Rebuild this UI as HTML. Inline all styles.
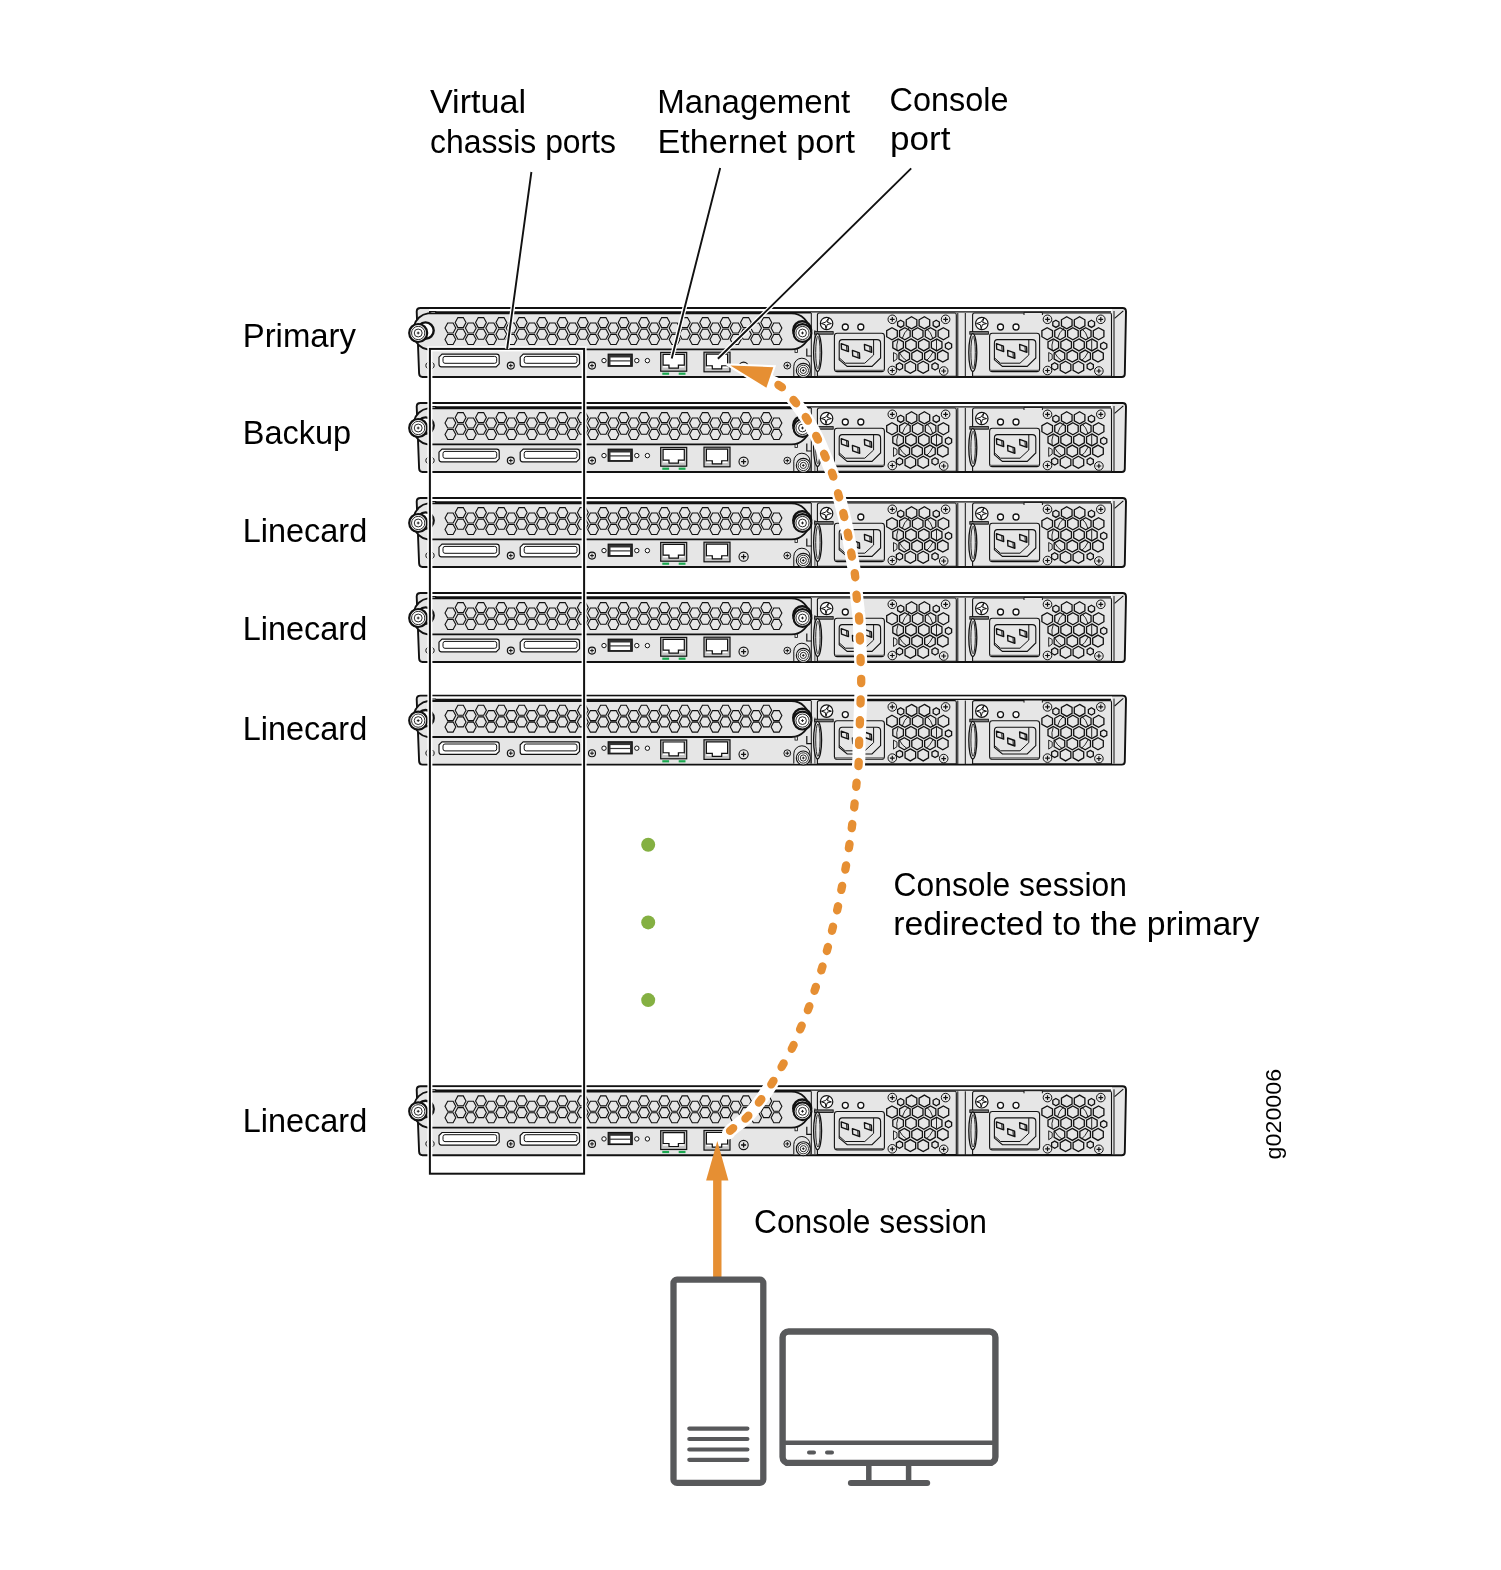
<!DOCTYPE html><html><head><meta charset="utf-8"><style>html,body{margin:0;padding:0;background:#fff;}svg{display:block;will-change:transform}</style></head><body>
<svg width="1501" height="1570" viewBox="0 0 1501 1570">
<rect width="1501" height="1570" fill="#fff"/>
<defs><g id="u"><path d="M420.5,308 H1122.5 Q1126,308 1126,311.5 L1124.8,374 Q1124.8,377 1121.8,377 H422.5 Q419.3,377 419.1,373.5 L416.7,311.5 Q416.7,308 420.5,308 Z" fill="#e6e6e6" stroke="#111" stroke-width="1.9"/><rect x="429" y="309" width="683" height="2.6" fill="#fff"/><path d="M429,312.3 H811" stroke="#111" stroke-width="2.2"/><path d="M811,311.8 H1111" stroke="#111" stroke-width="1.3"/><path d="M429,311.5 H436 L435,314.5" fill="#fff" stroke="#111" stroke-width="1"/><path d="M428,313.4 H791.5 A17.8,17.8 0 0 1 791.5,349.4 H427.5 A16.7,16.7 0 0 1 414,337 V326 A16.7,16.7 0 0 1 428,313.4 Z" fill="#e6e6e6" stroke="#111" stroke-width="1.8"/><circle cx="425.5" cy="330.6" r="8.2" fill="#fff" stroke="#111" stroke-width="2.4"/><circle cx="418.2" cy="333.0" r="9.0" fill="#fff" stroke="#111" stroke-width="2.2"/><circle cx="418.2" cy="333.0" r="6.66" fill="none" stroke="#111" stroke-width="0.9"/><circle cx="418.2" cy="333.0" r="3.96" fill="none" stroke="#111" stroke-width="0.9"/><path d="M416.8,333.0 H419.59999999999997 M418.2,331.6 V334.4" stroke="#111" stroke-width="0.9"/><path d="M445.00,328.00 L447.70,323.00 L453.10,323.00 L455.80,328.00 L453.10,333.00 L447.70,333.00ZM445.00,339.50 L447.70,334.50 L453.10,334.50 L455.80,339.50 L453.10,344.50 L447.70,344.50ZM455.19,322.60 L457.89,317.60 L463.29,317.60 L465.99,322.60 L463.29,327.60 L457.89,327.60ZM455.19,334.30 L457.89,329.30 L463.29,329.30 L465.99,334.30 L463.29,339.30 L457.89,339.30ZM465.38,328.00 L468.08,323.00 L473.48,323.00 L476.18,328.00 L473.48,333.00 L468.08,333.00ZM465.38,339.50 L468.08,334.50 L473.48,334.50 L476.18,339.50 L473.48,344.50 L468.08,344.50ZM475.57,322.60 L478.27,317.60 L483.67,317.60 L486.37,322.60 L483.67,327.60 L478.27,327.60ZM475.57,334.30 L478.27,329.30 L483.67,329.30 L486.37,334.30 L483.67,339.30 L478.27,339.30ZM485.76,328.00 L488.46,323.00 L493.86,323.00 L496.56,328.00 L493.86,333.00 L488.46,333.00ZM485.76,339.50 L488.46,334.50 L493.86,334.50 L496.56,339.50 L493.86,344.50 L488.46,344.50ZM495.95,322.60 L498.65,317.60 L504.05,317.60 L506.75,322.60 L504.05,327.60 L498.65,327.60ZM495.95,334.30 L498.65,329.30 L504.05,329.30 L506.75,334.30 L504.05,339.30 L498.65,339.30ZM506.14,328.00 L508.84,323.00 L514.24,323.00 L516.94,328.00 L514.24,333.00 L508.84,333.00ZM506.14,339.50 L508.84,334.50 L514.24,334.50 L516.94,339.50 L514.24,344.50 L508.84,344.50ZM516.33,322.60 L519.03,317.60 L524.43,317.60 L527.13,322.60 L524.43,327.60 L519.03,327.60ZM516.33,334.30 L519.03,329.30 L524.43,329.30 L527.13,334.30 L524.43,339.30 L519.03,339.30ZM526.52,328.00 L529.22,323.00 L534.62,323.00 L537.32,328.00 L534.62,333.00 L529.22,333.00ZM526.52,339.50 L529.22,334.50 L534.62,334.50 L537.32,339.50 L534.62,344.50 L529.22,344.50ZM536.71,322.60 L539.41,317.60 L544.81,317.60 L547.51,322.60 L544.81,327.60 L539.41,327.60ZM536.71,334.30 L539.41,329.30 L544.81,329.30 L547.51,334.30 L544.81,339.30 L539.41,339.30ZM546.90,328.00 L549.60,323.00 L555.00,323.00 L557.70,328.00 L555.00,333.00 L549.60,333.00ZM546.90,339.50 L549.60,334.50 L555.00,334.50 L557.70,339.50 L555.00,344.50 L549.60,344.50ZM557.09,322.60 L559.79,317.60 L565.19,317.60 L567.89,322.60 L565.19,327.60 L559.79,327.60ZM557.09,334.30 L559.79,329.30 L565.19,329.30 L567.89,334.30 L565.19,339.30 L559.79,339.30ZM567.28,328.00 L569.98,323.00 L575.38,323.00 L578.08,328.00 L575.38,333.00 L569.98,333.00ZM567.28,339.50 L569.98,334.50 L575.38,334.50 L578.08,339.50 L575.38,344.50 L569.98,344.50ZM577.47,322.60 L580.17,317.60 L585.57,317.60 L588.27,322.60 L585.57,327.60 L580.17,327.60ZM577.47,334.30 L580.17,329.30 L585.57,329.30 L588.27,334.30 L585.57,339.30 L580.17,339.30ZM587.66,328.00 L590.36,323.00 L595.76,323.00 L598.46,328.00 L595.76,333.00 L590.36,333.00ZM587.66,339.50 L590.36,334.50 L595.76,334.50 L598.46,339.50 L595.76,344.50 L590.36,344.50ZM597.85,322.60 L600.55,317.60 L605.95,317.60 L608.65,322.60 L605.95,327.60 L600.55,327.60ZM597.85,334.30 L600.55,329.30 L605.95,329.30 L608.65,334.30 L605.95,339.30 L600.55,339.30ZM608.04,328.00 L610.74,323.00 L616.14,323.00 L618.84,328.00 L616.14,333.00 L610.74,333.00ZM608.04,339.50 L610.74,334.50 L616.14,334.50 L618.84,339.50 L616.14,344.50 L610.74,344.50ZM618.23,322.60 L620.93,317.60 L626.33,317.60 L629.03,322.60 L626.33,327.60 L620.93,327.60ZM618.23,334.30 L620.93,329.30 L626.33,329.30 L629.03,334.30 L626.33,339.30 L620.93,339.30ZM628.42,328.00 L631.12,323.00 L636.52,323.00 L639.22,328.00 L636.52,333.00 L631.12,333.00ZM628.42,339.50 L631.12,334.50 L636.52,334.50 L639.22,339.50 L636.52,344.50 L631.12,344.50ZM638.61,322.60 L641.31,317.60 L646.71,317.60 L649.41,322.60 L646.71,327.60 L641.31,327.60ZM638.61,334.30 L641.31,329.30 L646.71,329.30 L649.41,334.30 L646.71,339.30 L641.31,339.30ZM648.80,328.00 L651.50,323.00 L656.90,323.00 L659.60,328.00 L656.90,333.00 L651.50,333.00ZM648.80,339.50 L651.50,334.50 L656.90,334.50 L659.60,339.50 L656.90,344.50 L651.50,344.50ZM658.99,322.60 L661.69,317.60 L667.09,317.60 L669.79,322.60 L667.09,327.60 L661.69,327.60ZM658.99,334.30 L661.69,329.30 L667.09,329.30 L669.79,334.30 L667.09,339.30 L661.69,339.30ZM669.18,328.00 L671.88,323.00 L677.28,323.00 L679.98,328.00 L677.28,333.00 L671.88,333.00ZM669.18,339.50 L671.88,334.50 L677.28,334.50 L679.98,339.50 L677.28,344.50 L671.88,344.50ZM679.37,322.60 L682.07,317.60 L687.47,317.60 L690.17,322.60 L687.47,327.60 L682.07,327.60ZM679.37,334.30 L682.07,329.30 L687.47,329.30 L690.17,334.30 L687.47,339.30 L682.07,339.30ZM689.56,328.00 L692.26,323.00 L697.66,323.00 L700.36,328.00 L697.66,333.00 L692.26,333.00ZM689.56,339.50 L692.26,334.50 L697.66,334.50 L700.36,339.50 L697.66,344.50 L692.26,344.50ZM699.75,322.60 L702.45,317.60 L707.85,317.60 L710.55,322.60 L707.85,327.60 L702.45,327.60ZM699.75,334.30 L702.45,329.30 L707.85,329.30 L710.55,334.30 L707.85,339.30 L702.45,339.30ZM709.94,328.00 L712.64,323.00 L718.04,323.00 L720.74,328.00 L718.04,333.00 L712.64,333.00ZM709.94,339.50 L712.64,334.50 L718.04,334.50 L720.74,339.50 L718.04,344.50 L712.64,344.50ZM720.13,322.60 L722.83,317.60 L728.23,317.60 L730.93,322.60 L728.23,327.60 L722.83,327.60ZM720.13,334.30 L722.83,329.30 L728.23,329.30 L730.93,334.30 L728.23,339.30 L722.83,339.30ZM730.32,328.00 L733.02,323.00 L738.42,323.00 L741.12,328.00 L738.42,333.00 L733.02,333.00ZM730.32,339.50 L733.02,334.50 L738.42,334.50 L741.12,339.50 L738.42,344.50 L733.02,344.50ZM740.51,322.60 L743.21,317.60 L748.61,317.60 L751.31,322.60 L748.61,327.60 L743.21,327.60ZM740.51,334.30 L743.21,329.30 L748.61,329.30 L751.31,334.30 L748.61,339.30 L743.21,339.30ZM750.70,328.00 L753.40,323.00 L758.80,323.00 L761.50,328.00 L758.80,333.00 L753.40,333.00ZM750.70,339.50 L753.40,334.50 L758.80,334.50 L761.50,339.50 L758.80,344.50 L753.40,344.50ZM760.89,322.60 L763.59,317.60 L768.99,317.60 L771.69,322.60 L768.99,327.60 L763.59,327.60ZM760.89,334.30 L763.59,329.30 L768.99,329.30 L771.69,334.30 L768.99,339.30 L763.59,339.30ZM771.08,328.00 L773.78,323.00 L779.18,323.00 L781.88,328.00 L779.18,333.00 L773.78,333.00ZM771.08,339.50 L773.78,334.50 L779.18,334.50 L781.88,339.50 L779.18,344.50 L773.78,344.50Z" fill="#e6e6e6" stroke="#111" stroke-width="1.12"/><circle cx="802.2" cy="330.2" r="9" fill="#fff" stroke="#111" stroke-width="2.4"/><circle cx="802.5" cy="333.0" r="8.9" fill="#fff" stroke="#111" stroke-width="2.2"/><circle cx="802.5" cy="333.0" r="6.59" fill="none" stroke="#111" stroke-width="0.9"/><circle cx="802.5" cy="333.0" r="3.92" fill="none" stroke="#111" stroke-width="0.9"/><path d="M801.1,333.0 H803.9 M802.5,331.6 V334.4" stroke="#111" stroke-width="0.9"/><path d="M427.5,362.5 A3.5,3.5 0 0 0 427.5,368.5 M432.5,362.5 A3.5,3.5 0 0 1 432.5,368.5" fill="none" stroke="#111" stroke-width="1"/><path d="M442,354.2 H496.7 Q499.2,354.2 499.2,356.7 V363.8 L496.2,366.8 H441.5 Q439,366.8 439,364.3 V357.2 L442,354.2 Z" fill="#fff" stroke="#111" stroke-width="1.2"/><path d="M445,356.4 H494.7 Q496.7,356.4 496.7,358.4 V361.3 Q496.7,363.3 494.7,363.3 H445 Q443,363.3 443,361.3 V358.4 Q443,356.4 445,356.4 Z" fill="#fff" stroke="#111" stroke-width="1.0"/><path d="M523.2,354.2 H577.0 Q579.5,354.2 579.5,356.7 V363.8 L576.5,366.8 H522.7 Q520.2,366.8 520.2,364.3 V357.2 L523.2,354.2 Z" fill="#fff" stroke="#111" stroke-width="1.2"/><path d="M526.2,356.4 H575.0 Q577.0,356.4 577.0,358.4 V361.3 Q577.0,363.3 575.0,363.3 H526.2 Q524.2,363.3 524.2,361.3 V358.4 Q524.2,356.4 526.2,356.4 Z" fill="#fff" stroke="#111" stroke-width="1.0"/><circle cx="510.8" cy="365.6" r="3.5" fill="#e6e6e6" stroke="#111" stroke-width="1.1"/><path d="M508.875,365.6 H512.725 M510.8,363.675 V367.52500000000003" stroke="#111" stroke-width="1.00"/><circle cx="592" cy="365.6" r="3.5" fill="#e6e6e6" stroke="#111" stroke-width="1.1"/><path d="M590.075,365.6 H593.925 M592,363.675 V367.52500000000003" stroke="#111" stroke-width="1.00"/><circle cx="604" cy="360.6" r="2.2" fill="#fff" stroke="#111" stroke-width="1"/><circle cx="636.8" cy="360.6" r="2.2" fill="#fff" stroke="#111" stroke-width="1"/><circle cx="647.4" cy="360.6" r="2.2" fill="#fff" stroke="#111" stroke-width="1"/><rect x="608.2" y="354.2" width="24" height="12" fill="#333" stroke="#111" stroke-width="1.2"/><rect x="610.5" y="357.5" width="19.5" height="2.8" fill="#fff"/><rect x="610.5" y="361.5" width="19.5" height="3.5" fill="#fff"/><rect x="660.7" y="352.4" width="26.0" height="18.80000000000001" fill="#c4c4c4" stroke="#111" stroke-width="1.2"/><path d="M663.1,354.4 H684.3000000000001 V365.2 H678.38 V368.2 H669.0200000000001 V365.2 H663.1 Z" fill="#fff" stroke="#111" stroke-width="1.2"/><path d="M663.1,366.7 H668.0200000000001 M679.38,366.7 H684.3000000000001" stroke="#fff" stroke-width="1.5"/><rect x="662.3" y="372.6" width="6.8" height="2.2" fill="#1aa84f"/><rect x="678.7" y="372.6" width="6.8" height="2.2" fill="#1aa84f"/><rect x="704" y="352.2" width="26" height="19.600000000000023" fill="#c4c4c4" stroke="#111" stroke-width="1.2"/><path d="M706.4,354.2 H727.6 V365.8 H721.68 V368.8 H712.32 V365.8 H706.4 Z" fill="#fff" stroke="#111" stroke-width="1.2"/><path d="M706.4,367.3 H711.32 M722.68,367.3 H727.6" stroke="#fff" stroke-width="1.5"/><circle cx="743.6" cy="366.7" r="4.6" fill="#e6e6e6" stroke="#111" stroke-width="1.1"/><path d="M741.07,366.7 H746.13 M743.6,364.17 V369.22999999999996" stroke="#111" stroke-width="1.29"/><circle cx="787.3" cy="365.6" r="3.4" fill="#e6e6e6" stroke="#111" stroke-width="1.0"/><path d="M785.43,365.6 H789.17 M787.3,363.73 V367.47" stroke="#111" stroke-width="1.00"/><rect x="795" y="349.3" width="2.6" height="3.2" fill="#e6e6e6" stroke="#111" stroke-width="0.8"/><path d="M793.8,376 V366.3 A8.1,8.1 0 0 1 810,366.3 V376" fill="#e6e6e6" stroke="#111" stroke-width="1"/><path d="M806.8,348.5 V356 H811.7" fill="none" stroke="#111" stroke-width="1.2"/><circle cx="803.3" cy="370.4" r="7.0" fill="#fff" stroke="#111" stroke-width="1.1"/><circle cx="803.3" cy="370.4" r="5.18" fill="none" stroke="#111" stroke-width="0.9"/><circle cx="803.3" cy="370.4" r="3.08" fill="none" stroke="#111" stroke-width="0.9"/><path d="M801.9,370.4 H804.6999999999999 M803.3,369.0 V371.79999999999995" stroke="#111" stroke-width="0.9"/><path d="M811.3,313 V376" stroke="#111" stroke-width="1.0"/><path d="M814.9,330 V376" stroke="#444" stroke-width="1"/><g transform="translate(0,0)"><path d="M817.4,315 Q817.4,313 819.5,313 H955 Q956.3,313 956.3,315 V376.3 H817.4 Z" fill="#e6e6e6" stroke="#111" stroke-width="1.1"/><circle cx="826.6" cy="323.5" r="6.2" fill="#fff" stroke="#111" stroke-width="1.2"/><path d="M828.6,318.2 L827.4,322.3 L831.4,323.6 L827.2,324.6 L826,328.8 L825.2,324.8 L821.4,323.5 L825.6,322.2 Z" fill="#fff" stroke="#111" stroke-width="1"/><rect x="814.6" y="331.6" width="18.6" height="2.6" fill="#777" stroke="#111" stroke-width="0.9"/><circle cx="845.3" cy="327" r="3" fill="#fff" stroke="#111" stroke-width="1.3"/><circle cx="860.8" cy="327" r="3" fill="#fff" stroke="#111" stroke-width="1.3"/><rect x="834.4" y="333.2" width="50" height="38.4" rx="2.8" fill="#e6e6e6" stroke="#111" stroke-width="1.1"/><path d="M834.6,370.3 H884" stroke="#666" stroke-width="1.2"/><path d="M842.2,339.6 H877 Q880.6,339.6 880.6,343.2 V358 L872,366.4 H847.2 L839.2,359.8 V343.2 Q839.2,339.6 842.2,339.6 Z" fill="#e6e6e6" stroke="#111" stroke-width="1.1"/><path d="M873.6,339.8 V355 L864.8,363.2 H845.2 L839.4,358" fill="none" stroke="#111" stroke-width="1"/><path d="M841.2,343.6 L848.2,346.1 L848.5,351.6 L841.5,349.1 Z" fill="#e6e6e6" stroke="#111" stroke-width="1.35" stroke-linejoin="round"/><path d="M846.6,345.8 L846.9000000000001,350.90000000000003" stroke="#111" stroke-width="1.0"/><path d="M852.4,350.4 L859.4,352.9 L859.6999999999999,358.4 L852.6999999999999,355.9 Z" fill="#e6e6e6" stroke="#111" stroke-width="1.35" stroke-linejoin="round"/><path d="M857.8,352.59999999999997 L858.1,357.7" stroke="#111" stroke-width="1.0"/><path d="M864.4,344.4 L871.4,346.9 L871.6999999999999,352.4 L864.6999999999999,349.9 Z" fill="#e6e6e6" stroke="#111" stroke-width="1.35" stroke-linejoin="round"/><path d="M869.8,346.59999999999997 L870.1,351.7" stroke="#111" stroke-width="1.0"/><circle cx="892.3" cy="319.3" r="4.3" fill="#e6e6e6" stroke="#111" stroke-width="1.0"/><path d="M889.935,319.3 H894.665 M892.3,316.935 V321.665" stroke="#111" stroke-width="1.20"/><circle cx="945.6" cy="319.3" r="4.3" fill="#e6e6e6" stroke="#111" stroke-width="1.0"/><path d="M943.235,319.3 H947.965 M945.6,316.935 V321.665" stroke="#111" stroke-width="1.20"/><circle cx="892.3" cy="370.5" r="4.3" fill="#e6e6e6" stroke="#111" stroke-width="1.0"/><path d="M889.935,370.5 H894.665 M892.3,368.135 V372.865" stroke="#111" stroke-width="1.20"/><circle cx="943.7" cy="371.0" r="4.3" fill="#e6e6e6" stroke="#111" stroke-width="1.0"/><path d="M941.335,371.0 H946.065 M943.7,368.635 V373.365" stroke="#111" stroke-width="1.20"/><path d="M911.55,316.80 L916.85,319.80 L916.85,325.80 L911.55,328.80 L906.25,325.80 L906.25,319.80ZM924.40,316.80 L929.70,319.80 L929.70,325.80 L924.40,328.80 L919.10,325.80 L919.10,319.80ZM900.70,320.20 L903.80,322.00 L903.80,325.60 L900.70,327.40 L897.60,325.60 L897.60,322.00ZM936.25,320.20 L939.35,322.00 L939.35,325.60 L936.25,327.40 L933.15,325.60 L933.15,322.00ZM892.00,327.70 L897.30,330.70 L897.30,336.70 L892.00,339.70 L886.70,336.70 L886.70,330.70ZM904.85,327.70 L910.15,330.70 L910.15,336.70 L904.85,339.70 L899.55,336.70 L899.55,330.70ZM917.70,327.70 L923.00,330.70 L923.00,336.70 L917.70,339.70 L912.40,336.70 L912.40,330.70ZM930.55,327.70 L935.85,330.70 L935.85,336.70 L930.55,339.70 L925.25,336.70 L925.25,330.70ZM943.40,327.70 L948.70,330.70 L948.70,336.70 L943.40,339.70 L938.10,336.70 L938.10,330.70ZM898.10,338.90 L903.40,341.90 L903.40,347.90 L898.10,350.90 L892.80,347.90 L892.80,341.90ZM910.95,338.90 L916.25,341.90 L916.25,347.90 L910.95,350.90 L905.65,347.90 L905.65,341.90ZM923.80,338.90 L929.10,341.90 L929.10,347.90 L923.80,350.90 L918.50,347.90 L918.50,341.90ZM936.65,338.90 L941.95,341.90 L941.95,347.90 L936.65,350.90 L931.35,347.90 L931.35,341.90ZM948.50,342.30 L951.60,344.10 L951.60,347.70 L948.50,349.50 L945.40,347.70 L945.40,344.10ZM904.25,350.10 L909.55,353.10 L909.55,359.10 L904.25,362.10 L898.95,359.10 L898.95,353.10ZM917.10,350.10 L922.40,353.10 L922.40,359.10 L917.10,362.10 L911.80,359.10 L911.80,353.10ZM929.95,350.10 L935.25,353.10 L935.25,359.10 L929.95,362.10 L924.65,359.10 L924.65,353.10ZM942.80,350.10 L948.10,353.10 L948.10,359.10 L942.80,362.10 L937.50,359.10 L937.50,353.10ZM910.35,361.30 L915.65,364.30 L915.65,370.30 L910.35,373.30 L905.05,370.30 L905.05,364.30ZM923.20,361.30 L928.50,364.30 L928.50,370.30 L923.20,373.30 L917.90,370.30 L917.90,364.30ZM899.50,362.80 L902.60,364.60 L902.60,368.20 L899.50,370.00 L896.40,368.20 L896.40,364.60ZM935.05,362.80 L938.15,364.60 L938.15,368.20 L935.05,370.00 L931.95,368.20 L931.95,364.60Z" fill="#e6e6e6" stroke="#111" stroke-width="1.3"/><path d="M902,339 Q904,332 909,328 M926.5,328.5 Q931,332 933,339 M897,350 Q896,345 898,340 M936.5,339.5 V350 M899,352 Q902,358 907,361 M933,352 Q930,358 926,361" fill="none" stroke="#111" stroke-width="0.9"/><path d="M893.5,352.5 L897,354.5 V359 L893.5,361.5 Z" fill="#e6e6e6" stroke="#111" stroke-width="0.9"/></g><g transform="translate(155.2,0)"><path d="M817.4,315 Q817.4,313 819.5,313 H955 Q956.3,313 956.3,315 V376.3 H817.4 Z" fill="#e6e6e6" stroke="#111" stroke-width="1.1"/><circle cx="826.6" cy="323.5" r="6.2" fill="#fff" stroke="#111" stroke-width="1.2"/><path d="M828.6,318.2 L827.4,322.3 L831.4,323.6 L827.2,324.6 L826,328.8 L825.2,324.8 L821.4,323.5 L825.6,322.2 Z" fill="#fff" stroke="#111" stroke-width="1"/><rect x="814.6" y="331.6" width="18.6" height="2.6" fill="#777" stroke="#111" stroke-width="0.9"/><circle cx="845.3" cy="327" r="3" fill="#fff" stroke="#111" stroke-width="1.3"/><circle cx="860.8" cy="327" r="3" fill="#fff" stroke="#111" stroke-width="1.3"/><rect x="834.4" y="333.2" width="50" height="38.4" rx="2.8" fill="#e6e6e6" stroke="#111" stroke-width="1.1"/><path d="M834.6,370.3 H884" stroke="#666" stroke-width="1.2"/><path d="M842.2,339.6 H877 Q880.6,339.6 880.6,343.2 V358 L872,366.4 H847.2 L839.2,359.8 V343.2 Q839.2,339.6 842.2,339.6 Z" fill="#e6e6e6" stroke="#111" stroke-width="1.1"/><path d="M873.6,339.8 V355 L864.8,363.2 H845.2 L839.4,358" fill="none" stroke="#111" stroke-width="1"/><path d="M841.2,343.6 L848.2,346.1 L848.5,351.6 L841.5,349.1 Z" fill="#e6e6e6" stroke="#111" stroke-width="1.35" stroke-linejoin="round"/><path d="M846.6,345.8 L846.9000000000001,350.90000000000003" stroke="#111" stroke-width="1.0"/><path d="M852.4,350.4 L859.4,352.9 L859.6999999999999,358.4 L852.6999999999999,355.9 Z" fill="#e6e6e6" stroke="#111" stroke-width="1.35" stroke-linejoin="round"/><path d="M857.8,352.59999999999997 L858.1,357.7" stroke="#111" stroke-width="1.0"/><path d="M864.4,344.4 L871.4,346.9 L871.6999999999999,352.4 L864.6999999999999,349.9 Z" fill="#e6e6e6" stroke="#111" stroke-width="1.35" stroke-linejoin="round"/><path d="M869.8,346.59999999999997 L870.1,351.7" stroke="#111" stroke-width="1.0"/><circle cx="892.3" cy="319.3" r="4.3" fill="#e6e6e6" stroke="#111" stroke-width="1.0"/><path d="M889.935,319.3 H894.665 M892.3,316.935 V321.665" stroke="#111" stroke-width="1.20"/><circle cx="945.6" cy="319.3" r="4.3" fill="#e6e6e6" stroke="#111" stroke-width="1.0"/><path d="M943.235,319.3 H947.965 M945.6,316.935 V321.665" stroke="#111" stroke-width="1.20"/><circle cx="892.3" cy="370.5" r="4.3" fill="#e6e6e6" stroke="#111" stroke-width="1.0"/><path d="M889.935,370.5 H894.665 M892.3,368.135 V372.865" stroke="#111" stroke-width="1.20"/><circle cx="943.7" cy="371.0" r="4.3" fill="#e6e6e6" stroke="#111" stroke-width="1.0"/><path d="M941.335,371.0 H946.065 M943.7,368.635 V373.365" stroke="#111" stroke-width="1.20"/><path d="M911.55,316.80 L916.85,319.80 L916.85,325.80 L911.55,328.80 L906.25,325.80 L906.25,319.80ZM924.40,316.80 L929.70,319.80 L929.70,325.80 L924.40,328.80 L919.10,325.80 L919.10,319.80ZM900.70,320.20 L903.80,322.00 L903.80,325.60 L900.70,327.40 L897.60,325.60 L897.60,322.00ZM936.25,320.20 L939.35,322.00 L939.35,325.60 L936.25,327.40 L933.15,325.60 L933.15,322.00ZM892.00,327.70 L897.30,330.70 L897.30,336.70 L892.00,339.70 L886.70,336.70 L886.70,330.70ZM904.85,327.70 L910.15,330.70 L910.15,336.70 L904.85,339.70 L899.55,336.70 L899.55,330.70ZM917.70,327.70 L923.00,330.70 L923.00,336.70 L917.70,339.70 L912.40,336.70 L912.40,330.70ZM930.55,327.70 L935.85,330.70 L935.85,336.70 L930.55,339.70 L925.25,336.70 L925.25,330.70ZM943.40,327.70 L948.70,330.70 L948.70,336.70 L943.40,339.70 L938.10,336.70 L938.10,330.70ZM898.10,338.90 L903.40,341.90 L903.40,347.90 L898.10,350.90 L892.80,347.90 L892.80,341.90ZM910.95,338.90 L916.25,341.90 L916.25,347.90 L910.95,350.90 L905.65,347.90 L905.65,341.90ZM923.80,338.90 L929.10,341.90 L929.10,347.90 L923.80,350.90 L918.50,347.90 L918.50,341.90ZM936.65,338.90 L941.95,341.90 L941.95,347.90 L936.65,350.90 L931.35,347.90 L931.35,341.90ZM948.50,342.30 L951.60,344.10 L951.60,347.70 L948.50,349.50 L945.40,347.70 L945.40,344.10ZM904.25,350.10 L909.55,353.10 L909.55,359.10 L904.25,362.10 L898.95,359.10 L898.95,353.10ZM917.10,350.10 L922.40,353.10 L922.40,359.10 L917.10,362.10 L911.80,359.10 L911.80,353.10ZM929.95,350.10 L935.25,353.10 L935.25,359.10 L929.95,362.10 L924.65,359.10 L924.65,353.10ZM942.80,350.10 L948.10,353.10 L948.10,359.10 L942.80,362.10 L937.50,359.10 L937.50,353.10ZM910.35,361.30 L915.65,364.30 L915.65,370.30 L910.35,373.30 L905.05,370.30 L905.05,364.30ZM923.20,361.30 L928.50,364.30 L928.50,370.30 L923.20,373.30 L917.90,370.30 L917.90,364.30ZM899.50,362.80 L902.60,364.60 L902.60,368.20 L899.50,370.00 L896.40,368.20 L896.40,364.60ZM935.05,362.80 L938.15,364.60 L938.15,368.20 L935.05,370.00 L931.95,368.20 L931.95,364.60Z" fill="#e6e6e6" stroke="#111" stroke-width="1.3"/><path d="M902,339 Q904,332 909,328 M926.5,328.5 Q931,332 933,339 M897,350 Q896,345 898,340 M936.5,339.5 V350 M899,352 Q902,358 907,361 M933,352 Q930,358 926,361" fill="none" stroke="#111" stroke-width="0.9"/><path d="M893.5,352.5 L897,354.5 V359 L893.5,361.5 Z" fill="#e6e6e6" stroke="#111" stroke-width="0.9"/></g><path d="M957.8,313 V376.5 M965.3,313 V376.5" stroke="#111" stroke-width="1"/><ellipse cx="817.6" cy="352.5" rx="4" ry="18.8" fill="#e6e6e6" stroke="#111" stroke-width="1.3"/><ellipse cx="817.9" cy="352.5" rx="2.2" ry="16.2" fill="none" stroke="#111" stroke-width="0.9"/><ellipse cx="972.8" cy="352.5" rx="4" ry="18.8" fill="#e6e6e6" stroke="#111" stroke-width="1.3"/><ellipse cx="973.0999999999999" cy="352.5" rx="2.2" ry="16.2" fill="none" stroke="#111" stroke-width="0.9"/><path d="M1024,315 V312.4 H1042.4 V315" fill="#e6e6e6" stroke="#111" stroke-width="1"/><path d="M1114,311 V376" stroke="#111" stroke-width="1"/><path d="M1114.6,318.4 L1123.3,310.8" stroke="#111" stroke-width="1.1"/></g></defs>
<use href="#u" transform="translate(0,0)"/>
<use href="#u" transform="translate(0,95)"/>
<use href="#u" transform="translate(0,190)"/>
<use href="#u" transform="translate(0,285)"/>
<use href="#u" transform="translate(0,387.6)"/>
<use href="#u" transform="translate(0,778.3)"/>
<rect x="429.9" y="348.9" width="154.2" height="824.8" fill="none" stroke="#fff" stroke-width="5"/>
<rect x="429.9" y="348.9" width="154.2" height="824.8" fill="none" stroke="#111" stroke-width="2"/>
<path d="M531.4,172 L507.1,348.9 M720.2,168.1 L671.7,358.4 M911.2,168.4 L717.9,358.7" stroke="#fff" stroke-width="4.5" fill="none"/>
<path d="M531.4,172 L507.1,348.9 M720.2,168.1 L671.7,358.4 M911.2,168.4 L717.9,358.7" stroke="#111" stroke-width="1.9" fill="none"/>
<circle cx="648.2" cy="844.7" r="7" fill="#84b042"/>
<circle cx="648.2" cy="922.4000000000001" r="7" fill="#84b042"/>
<circle cx="648.2" cy="1000.1" r="7" fill="#84b042"/>
<path d="M755,375 C759.2,376.9 773.6,381.7 780.2,386.1 C786.8,390.5 790.4,396.2 794.8,401.6 C799.2,407.1 803.1,412.8 806.8,418.8 C810.5,424.8 814.1,431.6 817.1,437.7 C820.1,443.8 822.3,449.5 824.9,455.7 C827.5,461.9 830.3,468.0 832.6,474.6 C834.9,481.2 836.7,488.6 838.6,495.3 C840.5,502.0 842.2,508.4 843.8,515 C845.4,521.6 846.8,528.2 848.1,534.8 C849.4,541.4 850.4,547.9 851.5,554.6 C852.6,561.3 854.1,568.2 855,575.2 C855.9,582.2 856.0,589.5 856.7,596.7 C857.4,603.9 858.6,611.7 859.1,618.6 C859.6,625.5 859.6,631.5 859.9,638.4 C860.1,645.3 860.4,652.9 860.6,660 C860.8,667.1 861.2,674.0 861.2,680.9 C861.2,687.8 860.8,694.5 860.6,701.4 C860.4,708.3 860.1,715.4 859.9,722.3 C859.6,729.2 859.3,735.8 859.1,742.8 C858.9,749.8 859.1,757.0 858.6,764 C858.1,771.0 857.1,777.8 856.4,784.7 C855.7,791.6 855.1,798.5 854.4,805.4 C853.7,812.3 852.9,819.3 852,826.1 C851.1,832.9 850.2,839.2 849.2,846.1 C848.2,853.0 847.0,860.5 845.7,867.5 C844.5,874.5 843.1,881.1 841.7,887.9 C840.4,894.7 839.1,901.5 837.6,908.3 C836.1,915.1 834.2,921.9 832.5,928.7 C830.8,935.5 829.2,942.4 827.4,949 C825.6,955.6 823.9,961.8 821.9,968.4 C819.9,975.0 817.4,982.2 815.2,988.8 C813.0,995.4 811.0,1001.8 808.6,1008.2 C806.2,1014.7 803.5,1021.0 800.9,1027.5 C798.2,1034.0 795.8,1040.6 792.7,1046.9 C789.7,1053.2 786.0,1059.2 782.6,1065.2 C779.2,1071.2 776.1,1076.6 772.4,1082.6 C768.6,1088.5 764.4,1095.1 760.1,1100.9 C755.9,1106.7 751.6,1112.5 746.9,1117.2 C742.1,1122.0 734.7,1126.8 731.6,1129.4 C728.5,1132.0 729.0,1132.4 728.5,1133" fill="none" stroke="#fff" stroke-width="13" stroke-linecap="round"/>
<path d="M730.3,365.5 L773.3,367.2 L766.4,387.8 Z" fill="#e68f33" stroke="#fff" stroke-width="4" stroke-linejoin="miter"/>
<path d="M730.3,365.5 L773.3,367.2 L766.4,387.8 Z" fill="#e68f33"/>
<path d="M778.45,384.93 L781.95,387.27 M793.47,399.97 L796.13,403.23 M805.70,417.01 L807.90,420.59 M816.18,435.81 L818.02,439.59 M824.09,453.76 L825.71,457.64 M831.91,472.62 L833.29,476.58 M838.04,493.28 L839.16,497.32 M843.31,512.96 L844.29,517.04 M847.70,532.74 L848.50,536.86 M851.15,552.53 L851.85,556.67 M854.74,573.12 L855.26,577.28 M856.50,594.61 L856.90,598.79 M858.94,616.51 L859.26,620.69 M859.82,636.30 L859.98,640.50 M860.54,657.90 L860.66,662.10 M861.20,678.80 L861.20,683.00 M860.67,699.30 L860.53,703.50 M859.98,720.20 L859.82,724.40 M859.17,740.70 L859.03,744.90 M858.74,761.90 L858.46,766.10 M856.61,782.61 L856.19,786.79 M854.62,803.31 L854.18,807.49 M852.27,824.02 L851.73,828.18 M849.52,844.02 L848.88,848.18 M846.07,865.43 L845.33,869.57 M842.11,885.84 L841.29,889.96 M838.06,906.25 L837.14,910.35 M833.01,926.66 L831.99,930.74 M827.94,946.97 L826.86,951.03 M822.52,966.39 L821.28,970.41 M815.87,986.81 L814.53,990.79 M809.33,1006.23 L807.87,1010.17 M801.70,1025.56 L800.10,1029.44 M793.62,1045.01 L791.78,1048.79 M783.64,1063.37 L781.56,1067.03 M773.52,1080.82 L771.28,1084.38 M761.35,1099.21 L758.85,1102.59 M748.38,1115.72 L745.42,1118.68 M733.19,1128.03 L730.01,1130.77 " fill="none" stroke="#e68f33" stroke-width="8.3" stroke-linecap="round"/>
<path d="M717.3,1180 V1277" stroke="#e68f33" stroke-width="8.4"/>
<path d="M717.3,1141 L728.4,1180.5 L706.1,1180.5 Z" fill="#e68f33"/>
<rect x="673.5" y="1279.6" width="89.8" height="203.3" rx="3.5" fill="#fff" stroke="#58595b" stroke-width="6.3"/>
<path d="M689.3,1428.6 H747.4 M689.3,1439 H747.4 M689.3,1449.5 H747.4 M689.3,1459.8 H747.4" stroke="#58595b" stroke-width="4.2" stroke-linecap="round"/>
<rect x="782.6" y="1331.5" width="212.8" height="131.4" rx="6" fill="#fff" stroke="#58595b" stroke-width="6.4"/>
<path d="M784,1442.8 H993" stroke="#58595b" stroke-width="4.5"/>
<path d="M809,1452.6 H814 M827,1452.6 H832" stroke="#58595b" stroke-width="4" stroke-linecap="round"/>
<path d="M868.8,1465 V1483 M908.6,1465 V1483" stroke="#58595b" stroke-width="5.5"/>
<path d="M850.9,1483 H927.2" stroke="#58595b" stroke-width="6" stroke-linecap="round"/>
<text x="430" y="113" font-family="Liberation Sans, sans-serif" font-size="33" fill="#000" textLength="96" lengthAdjust="spacingAndGlyphs">Virtual</text>
<text x="430" y="152.8" font-family="Liberation Sans, sans-serif" font-size="33" fill="#000" textLength="186" lengthAdjust="spacingAndGlyphs">chassis ports</text>
<text x="657.3" y="112.5" font-family="Liberation Sans, sans-serif" font-size="33" fill="#000" textLength="193" lengthAdjust="spacingAndGlyphs">Management</text>
<text x="657.5" y="152.7" font-family="Liberation Sans, sans-serif" font-size="33" fill="#000" textLength="197.5" lengthAdjust="spacingAndGlyphs">Ethernet port</text>
<text x="889.5" y="110.8" font-family="Liberation Sans, sans-serif" font-size="33" fill="#000" textLength="119" lengthAdjust="spacingAndGlyphs">Console</text>
<text x="890" y="150.2" font-family="Liberation Sans, sans-serif" font-size="33" fill="#000" textLength="60.5" lengthAdjust="spacingAndGlyphs">port</text>
<text x="242.7" y="347.3" font-family="Liberation Sans, sans-serif" font-size="33" fill="#000" textLength="113.3" lengthAdjust="spacingAndGlyphs">Primary</text>
<text x="242.7" y="444" font-family="Liberation Sans, sans-serif" font-size="33" fill="#000" textLength="108.5" lengthAdjust="spacingAndGlyphs">Backup</text>
<text x="242.7" y="542.2" font-family="Liberation Sans, sans-serif" font-size="33" fill="#000" textLength="124.5" lengthAdjust="spacingAndGlyphs">Linecard</text>
<text x="242.7" y="640.4" font-family="Liberation Sans, sans-serif" font-size="33" fill="#000" textLength="124.5" lengthAdjust="spacingAndGlyphs">Linecard</text>
<text x="242.7" y="740.1" font-family="Liberation Sans, sans-serif" font-size="33" fill="#000" textLength="124.5" lengthAdjust="spacingAndGlyphs">Linecard</text>
<text x="242.7" y="1131.7" font-family="Liberation Sans, sans-serif" font-size="33" fill="#000" textLength="124.5" lengthAdjust="spacingAndGlyphs">Linecard</text>
<text x="893.5" y="896" font-family="Liberation Sans, sans-serif" font-size="33" fill="#000" textLength="233.5" lengthAdjust="spacingAndGlyphs">Console session</text>
<text x="893.2" y="935.1" font-family="Liberation Sans, sans-serif" font-size="33" fill="#000" textLength="366.2" lengthAdjust="spacingAndGlyphs">redirected to the primary</text>
<text x="754" y="1232.8" font-family="Liberation Sans, sans-serif" font-size="33" fill="#000" textLength="233" lengthAdjust="spacingAndGlyphs">Console session</text>
<text transform="translate(1280.8,1159.4) rotate(-90)" font-family="Liberation Sans, sans-serif" font-size="22.5" fill="#000" textLength="90.5" lengthAdjust="spacingAndGlyphs">g020006</text>
</svg></body></html>
